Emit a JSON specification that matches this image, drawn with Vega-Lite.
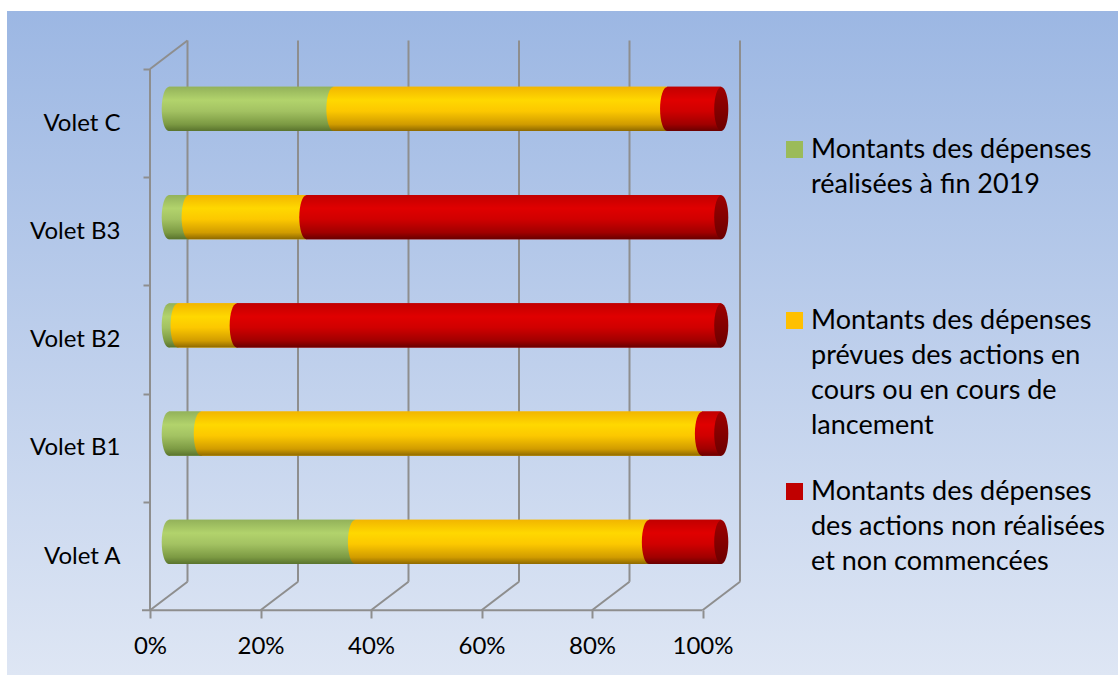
{
  "$schema": "https://vega.github.io/schema/vega-lite/v6.json",
  "width": 1111,
  "height": 664,
  "autosize": {"type": "none"},
  "padding": {"left": 7, "top": 11, "right": 0, "bottom": 0},
  "background": "#ffffff",
  "view": {
    "fill": {"gradient": "linear", "x1": 0, "y1": 0, "x2": 0, "y2": 1,
      "stops": [{"offset": 0, "color": "#9cb7e3"}, {"offset": 1, "color": "#dee6f4"}]},
    "stroke": null
  },
  "config": {"font": "Lato"},
  "resolve": {"scale": {"y": "independent"}},
  "layer": [
    {
      "data": {"values": [{"t": 0}, {"t": 0.2}, {"t": 0.4}, {"t": 0.6}, {"t": 0.8}, {"t": 1}]},
      "layer": [
        {
          "mark": {"type": "rule", "color": "#8e8e8e", "strokeWidth": 2, "xOffset": 18.75, "yOffset": -14.25, "y2Offset": -14.25},
          "encoding": {
            "x": {"field": "t", "type": "quantitative", "title": null,
              "scale": {"domain": [0, 1], "range": [161.75, 714.25], "nice": false, "zero": false},
              "axis": {"title": null, "orient": "bottom", "offset": -65, "values": [0, 0.2, 0.4, 0.6, 0.8, 1], "format": ".0%", "domain": false, "grid": false, "tickSize": 8, "tickColor": "#8e8e8e", "tickWidth": 2, "tickOffset": -18.75, "labelPadding": 16, "labelFontSize": 24, "labelFont": "Lato", "labelColor": "#000000", "labelFlush": false, "labelOverlap": false}},
            "y": {"datum": 0, "type": "quantitative", "axis": null, "scale": {"domain": [0, 5], "range": [43.75, 585], "nice": false, "zero": false}},
            "y2": {"datum": 5}
          }
        },
        {
          "mark": {"type": "rule", "color": "#8e8e8e", "strokeWidth": 2, "xOffset": 18.75, "yOffset": -14.25, "x2Offset": -18.75, "y2Offset": 14.25},
          "encoding": {
            "x": {"field": "t", "type": "quantitative", "title": null},
            "x2": {"field": "t"},
            "y": {"datum": 5, "type": "quantitative", "axis": null},
            "y2": {"datum": 5}
          }
        },
        {
          "transform": [{"filter": "datum.t == 0"}],
          "mark": {"type": "rule", "color": "#8e8e8e", "strokeWidth": 2, "xOffset": -26.75, "x2Offset": -18.75, "yOffset": 14.25},
          "encoding": {
            "x": {"field": "t", "type": "quantitative", "title": null},
            "x2": {"datum": 1},
            "y": {"datum": 5, "type": "quantitative", "axis": null}
          }
        },
        {
          "transform": [{"filter": "datum.t == 0"}],
          "mark": {"type": "rule", "color": "#8e8e8e", "strokeWidth": 2, "xOffset": -18.75, "yOffset": 14.25, "y2Offset": 14.25},
          "encoding": {
            "x": {"field": "t", "type": "quantitative", "title": null},
            "y": {"datum": 0, "type": "quantitative", "axis": null},
            "y2": {"datum": 5}
          }
        },
        {
          "transform": [{"filter": "datum.t == 0"}],
          "mark": {"type": "rule", "color": "#8e8e8e", "strokeWidth": 2, "xOffset": -18.75, "yOffset": 14.25, "x2Offset": 18.75, "y2Offset": -14.25},
          "encoding": {
            "x": {"field": "t", "type": "quantitative", "title": null},
            "x2": {"field": "t"},
            "y": {"datum": 0, "type": "quantitative", "axis": null},
            "y2": {"datum": 0}
          }
        }
      ]
    },
    {
      "data": {"values": [
        {"volet": "Volet C", "serie": "Montants des dépenses réalisées à fin 2019", "value": 0.298},
        {"volet": "Volet C", "serie": "Montants des dépenses prévues des actions en cours ou en cours de lancement", "value": 0.604},
        {"volet": "Volet C", "serie": "Montants des dépenses des actions non réalisées et non commencées", "value": 0.098},
        {"volet": "Volet B3", "serie": "Montants des dépenses réalisées à fin 2019", "value": 0.036},
        {"volet": "Volet B3", "serie": "Montants des dépenses prévues des actions en cours ou en cours de lancement", "value": 0.213},
        {"volet": "Volet B3", "serie": "Montants des dépenses des actions non réalisées et non commencées", "value": 0.751},
        {"volet": "Volet B2", "serie": "Montants des dépenses réalisées à fin 2019", "value": 0.016},
        {"volet": "Volet B2", "serie": "Montants des dépenses prévues des actions en cours ou en cours de lancement", "value": 0.107},
        {"volet": "Volet B2", "serie": "Montants des dépenses des actions non réalisées et non commencées", "value": 0.877},
        {"volet": "Volet B1", "serie": "Montants des dépenses réalisées à fin 2019", "value": 0.058},
        {"volet": "Volet B1", "serie": "Montants des dépenses prévues des actions en cours ou en cours de lancement", "value": 0.907},
        {"volet": "Volet B1", "serie": "Montants des dépenses des actions non réalisées et non commencées", "value": 0.035},
        {"volet": "Volet A", "serie": "Montants des dépenses réalisées à fin 2019", "value": 0.337},
        {"volet": "Volet A", "serie": "Montants des dépenses prévues des actions en cours ou en cours de lancement", "value": 0.532},
        {"volet": "Volet A", "serie": "Montants des dépenses des actions non réalisées et non commencées", "value": 0.131}
      ]},
      "transform": [
        {"stack": "value", "groupby": ["volet"], "sort": [{"field": "serie", "order": "descending"}], "offset": "normalize", "as": ["v0", "v1"]}
      ],
      "layer": [
        {
          "mark": {"type": "bar", "strokeWidth": 0},
          "encoding": {
            "x": {"field": "v0", "type": "quantitative", "title": null},
            "x2": {"field": "v1"},
            "y": {"field": "volet", "type": "nominal", "title": null,
              "scale": {"type": "band", "domain": ["Volet C", "Volet B3", "Volet B2", "Volet B1", "Volet A"], "range": [43.75, 585], "paddingInner": 0.5935, "paddingOuter": 0.29675},
              "axis": {"title": null, "orient": "left", "offset": -143, "domain": false, "grid": false, "ticks": true, "tickSize": 7, "tickColor": "#8e8e8e", "tickWidth": 2, "tickOffset": -39.9, "labelOffset": 54.1, "labelPadding": 23, "labelFontSize": 24, "labelFont": "Lato", "labelColor": "#000000"}},
            "color": {"field": "serie", "type": "nominal",
              "scale": {"domain": ["Montants des dépenses réalisées à fin 2019", "Montants des dépenses prévues des actions en cours ou en cours de lancement", "Montants des dépenses des actions non réalisées et non commencées"], "range": ["#9bbb59", "#ffc000", "#c00000"]},
              "legend": {"title": null, "orient": "none", "legendX": 774, "legendY": 125, "padding": 0, "symbolType": "square", "symbolSize": 289, "symbolStrokeWidth": 0, "labelFontSize": 27, "labelFont": "Lato", "labelColor": "#000000", "labelLimit": 600, "labelOffset": 3, "rowPadding": 38,
                "labelExpr": "indexof(datum.label, 'fin 2019') >= 0 ? ['Montants des dépenses', 'réalisées à fin 2019', ' ', ' '] : indexof(datum.label, 'lancement') >= 0 ? ['Montants des dépenses', 'prévues des actions en', 'cours ou en cours de', 'lancement'] : ['Montants des dépenses', 'des actions non réalisées', 'et non commencées']",
                "encode": {"labels": {"update": {"lineHeight": {"value": 35}}}}}}
          }
        },
        {
          "transform": [{"filter": "indexof(datum.serie, 'fin 2019') >= 0"}],
          "mark": {"type": "bar", "strokeWidth": 0, "fill": {"gradient": "linear", "x1": 0, "y1": 0, "x2": 0, "y2": 1, "stops": [{"offset": 0, "color": "#93b25a"}, {"offset": 0.3, "color": "#b2d36c"}, {"offset": 0.55, "color": "#a3c262"}, {"offset": 0.85, "color": "#7c9a43"}, {"offset": 1, "color": "#5a742e"}]}},
          "encoding": {"x": {"field": "v0", "type": "quantitative", "title": null}, "x2": {"field": "v1"}, "y": {"field": "volet", "type": "nominal", "title": null}}
        },
        {
          "transform": [{"filter": "indexof(datum.serie, 'lancement') >= 0"}],
          "mark": {"type": "bar", "strokeWidth": 0, "fill": {"gradient": "linear", "x1": 0, "y1": 0, "x2": 0, "y2": 1, "stops": [{"offset": 0, "color": "#f2b600"}, {"offset": 0.3, "color": "#ffd800"}, {"offset": 0.55, "color": "#fcc800"}, {"offset": 0.85, "color": "#d19c00"}, {"offset": 1, "color": "#8f6a00"}]}},
          "encoding": {"x": {"field": "v0", "type": "quantitative", "title": null}, "x2": {"field": "v1"}, "y": {"field": "volet", "type": "nominal", "title": null}}
        },
        {
          "transform": [{"filter": "indexof(datum.serie, 'commencées') >= 0"}],
          "mark": {"type": "bar", "strokeWidth": 0, "fill": {"gradient": "linear", "x1": 0, "y1": 0, "x2": 0, "y2": 1, "stops": [{"offset": 0, "color": "#c20000"}, {"offset": 0.3, "color": "#e00000"}, {"offset": 0.55, "color": "#d00000"}, {"offset": 0.85, "color": "#a00000"}, {"offset": 1, "color": "#6a0000"}]}},
          "encoding": {"x": {"field": "v0", "type": "quantitative", "title": null}, "x2": {"field": "v1"}, "y": {"field": "volet", "type": "nominal", "title": null}}
        },
        {
          "transform": [{"filter": "indexof(datum.serie, 'fin 2019') >= 0"}],
          "mark": {"type": "point", "shape": "M 0,-1 A 0.32,1 0 1,1 0,1 A 0.32,1 0 1,1 0,-1 Z", "size": 1936, "filled": true, "opacity": 1, "strokeWidth": 0, "fill": {"gradient": "linear", "x1": 0, "y1": 0, "x2": 0, "y2": 1, "stops": [{"offset": 0, "color": "#93b25a"}, {"offset": 0.3, "color": "#b2d36c"}, {"offset": 0.55, "color": "#a3c262"}, {"offset": 0.85, "color": "#7c9a43"}, {"offset": 1, "color": "#5a742e"}]}},
          "encoding": {"x": {"field": "v0", "type": "quantitative", "title": null}, "y": {"field": "volet", "type": "nominal", "title": null}}
        },
        {
          "transform": [{"filter": "indexof(datum.serie, 'lancement') >= 0"}],
          "mark": {"type": "point", "shape": "M 0,-1 A 0.32,1 0 1,1 0,1 A 0.32,1 0 1,1 0,-1 Z", "size": 1936, "filled": true, "opacity": 1, "strokeWidth": 0, "fill": {"gradient": "linear", "x1": 0, "y1": 0, "x2": 0, "y2": 1, "stops": [{"offset": 0, "color": "#f2b600"}, {"offset": 0.3, "color": "#ffd800"}, {"offset": 0.55, "color": "#fcc800"}, {"offset": 0.85, "color": "#d19c00"}, {"offset": 1, "color": "#8f6a00"}]}},
          "encoding": {"x": {"field": "v0", "type": "quantitative", "title": null}, "y": {"field": "volet", "type": "nominal", "title": null}}
        },
        {
          "transform": [{"filter": "indexof(datum.serie, 'commencées') >= 0"}],
          "mark": {"type": "point", "shape": "M 0,-1 A 0.32,1 0 1,1 0,1 A 0.32,1 0 1,1 0,-1 Z", "size": 1936, "filled": true, "opacity": 1, "strokeWidth": 0, "fill": {"gradient": "linear", "x1": 0, "y1": 0, "x2": 0, "y2": 1, "stops": [{"offset": 0, "color": "#c20000"}, {"offset": 0.3, "color": "#e00000"}, {"offset": 0.55, "color": "#d00000"}, {"offset": 0.85, "color": "#a00000"}, {"offset": 1, "color": "#6a0000"}]}},
          "encoding": {"x": {"field": "v0", "type": "quantitative", "title": null}, "y": {"field": "volet", "type": "nominal", "title": null}}
        },
        {
          "transform": [{"filter": "indexof(datum.serie, 'commencées') >= 0"}],
          "mark": {"type": "point", "shape": "M 0,-1 A 0.32,1 0 1,1 0,1 A 0.32,1 0 1,1 0,-1 Z", "size": 1936, "filled": true, "opacity": 1, "strokeWidth": 0, "fill": {"gradient": "linear", "x1": 0, "y1": 0, "x2": 0, "y2": 1, "stops": [{"offset": 0, "color": "#9c0000"}, {"offset": 1, "color": "#6c0000"}]}},
          "encoding": {"x": {"field": "v1", "type": "quantitative", "title": null}, "y": {"field": "volet", "type": "nominal", "title": null}}
        }
      ]
    }
  ]
}
